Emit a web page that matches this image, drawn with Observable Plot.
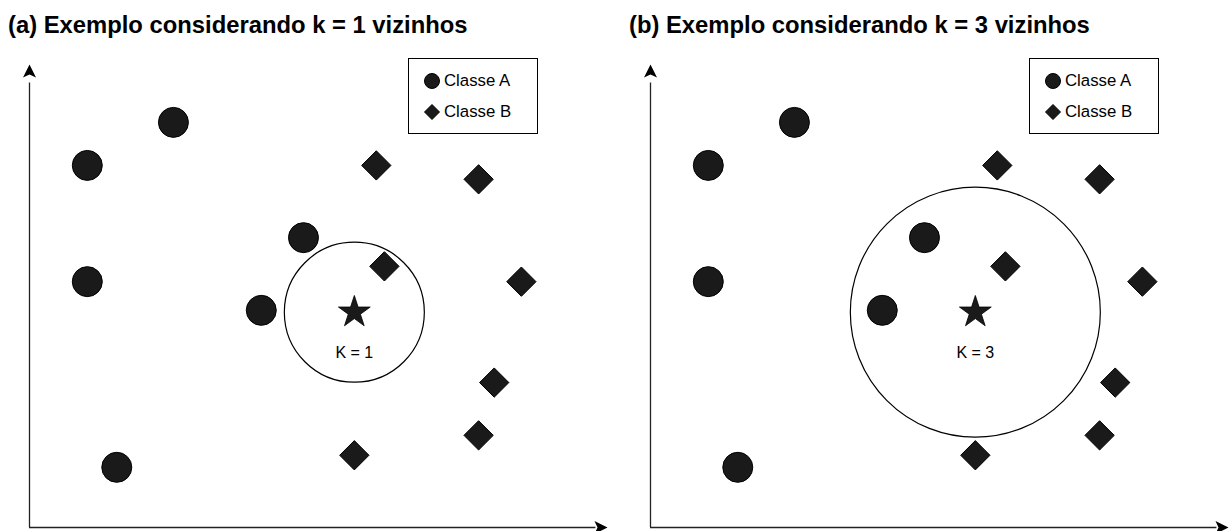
<!DOCTYPE html>
<html>
<head>
<meta charset="utf-8">
<script src="https://cdn.jsdelivr.net/npm/d3@7"></script>
<script src="https://cdn.jsdelivr.net/npm/@observablehq/plot@0.6"></script>
<style>
  html, body { margin: 0; padding: 0; background: #fff; }
  #wrap { position: relative; width: 1232px; height: 531px; overflow: hidden; font-family: "Liberation Sans", Arial, Helvetica, sans-serif; }
  .panel { position: absolute; top: 0; height: 531px; }
  .title { position: absolute; left: 8px; top: 13px; font-weight: bold; font-size: 23.8px; line-height: 1; white-space: nowrap; color: #000; }
  .legend { position: absolute; left: 408px; top: 58px; width: 128px; height: 74px; border: 1px solid #000; background: #fff; font-size: 16.8px; color: #000; }
  .legend .item { position: absolute; left: 14px; display: flex; align-items: center; white-space: nowrap; }
  .legend svg { margin-right: 3px; }
  .panel svg.plot { position: absolute; left: 0; top: 0; }
</style>
</head>
<body>
<div id="wrap"></div>
<script>
// ---- data (axis units: 0..100 on both axes) ----
const titles = ["(a) Exemplo considerando k = 1 vizinhos", "(b) Exemplo considerando k = 3 vizinhos"];
const kValues = [1, 3];
const legendLabels = ["Classe A", "Classe B"];
// Classe A (circles)
const classAx = [24.9, 10.0, 47.4, 10.0, 40.1, 15.1];
const classAy = [87.5, 78.2, 62.6, 53.1, 46.9, 13.0];
// Classe B (diamonds)
const classBx = [60.0, 77.7, 61.4, 85.1, 80.4, 77.7, 56.2];
const classBy = [78.2, 75.2, 56.4, 53.1, 31.3, 19.9, 15.6];
// query point (star)
const queryX = [56.2];
const queryY = [46.5];
const labelY = [37.8];

// ---- styles ----
const neighborRadius = {1: 70, 3: 125};
const panelLeft = [0, 621];
const panelWidth = [621, 611];

const classA = classAx.map((x, i) => ({x, y: classAy[i]}));
const classB = classBx.map((x, i) => ({x, y: classBy[i]}));
const query = queryX.map((x, i) => ({x, y: queryY[i]}));

// arrowhead symbols (tip at the origin)
const arrowUp = {draw(ctx) { ctx.moveTo(0, 0); ctx.lineTo(6.5, 13); ctx.lineTo(0, 10); ctx.lineTo(-6.5, 13); ctx.closePath(); }};
const arrowRight = {draw(ctx) { ctx.moveTo(0, 0); ctx.lineTo(-13, 6.5); ctx.lineTo(-10, 0); ctx.lineTo(-13, -6.5); ctx.closePath(); }};

const wrap = document.getElementById("wrap");

kValues.forEach((k, p) => {
  const W = panelWidth[p];
  const panel = document.createElement("div");
  panel.className = "panel";
  panel.style.left = panelLeft[p] + "px";
  panel.style.width = W + "px";

  const chart = Plot.plot({
    width: W,
    height: 531,
    marginLeft: 29,
    marginRight: W - 607,
    marginTop: 64,
    marginBottom: 4,
    x: {domain: [0, 100], axis: null},
    y: {domain: [0, 100], axis: null},
    style: {background: "transparent", overflow: "visible"},
    marks: [
      Plot.ruleX([0], {y1: 0, y2: 96, stroke: "#222", strokeWidth: 1.3}),
      Plot.ruleY([0], {x1: 0, x2: 98, stroke: "#222", strokeWidth: 1.3}),
      Plot.dot([{x: 0, y: 100}], {x: "x", y: "y", symbol: arrowUp, r: 1, fill: "#000", stroke: "none"}),
      Plot.dot([{x: 100, y: 0}], {x: "x", y: "y", symbol: arrowRight, r: 1, fill: "#000", stroke: "none"}),
      Plot.dot(query, {x: "x", y: "y", r: neighborRadius[k], fill: "none", stroke: "#000", strokeWidth: 1.2}),
      Plot.dot(classA, {x: "x", y: "y", r: 15, fill: "#1a1a1a", stroke: "#000", strokeWidth: 1}),
      Plot.dot(classB, {x: "x", y: "y", symbol: "diamond2", r: 13.2, fill: "#1a1a1a", stroke: "#000", strokeWidth: 1}),
      Plot.dot(query, {x: "x", y: "y", symbol: "star", r: 10, fill: "#1a1a1a", stroke: "#000", strokeWidth: 0.8}),
      Plot.text(query, {x: "x", y: () => labelY[0], text: () => `K = ${k}`, fontSize: 16, fill: "#000", fontFamily: "Liberation Sans, Arial, sans-serif", lineAnchor: "middle"})
    ]
  });
  chart.classList.add("plot");
  panel.appendChild(chart);

  const t = document.createElement("div");
  t.className = "title";
  t.textContent = titles[p];
  panel.appendChild(t);

  const lg = document.createElement("div");
  lg.className = "legend";
  const iconCircle = '<svg width="18" height="18" viewBox="-9 -9 18 18"><circle r="7.5" fill="#1a1a1a" stroke="#000" stroke-width="1"/></svg>';
  const iconDiamond = '<svg width="18" height="18" viewBox="-9 -9 18 18"><path d="M0,-7.5L7.5,0L0,7.5L-7.5,0Z" fill="#1a1a1a" stroke="#000" stroke-width="1"/></svg>';
  lg.innerHTML =
    `<div class="item" style="top:12px">${iconCircle}<span>${legendLabels[0]}</span></div>` +
    `<div class="item" style="top:43px">${iconDiamond}<span>${legendLabels[1]}</span></div>`;
  panel.appendChild(lg);

  wrap.appendChild(panel);
});
</script>
</body>
</html>
